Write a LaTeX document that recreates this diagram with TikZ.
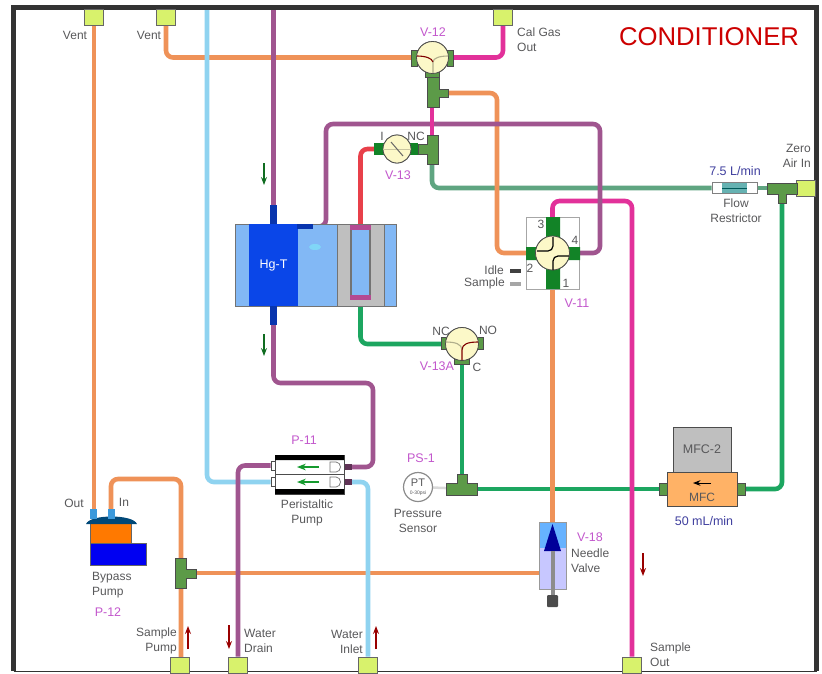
\documentclass[tikz,border=0pt]{standalone}
\usepackage{fontspec}
\setmainfont{Liberation Sans}
\usepackage{tikz}
\usetikzlibrary{arrows.meta,positioning}
\definecolor{frameink}{HTML}{333333}
\definecolor{label}{HTML}{58585A}
\definecolor{tagpink}{HTML}{C257CC}
\definecolor{flowblue}{HTML}{3F3F9E}
\definecolor{lime}{HTML}{D8F26C}
\definecolor{pipeorange}{HTML}{EF9258}
\definecolor{pipeblue}{HTML}{8FD3F0}
\definecolor{pipepurple}{HTML}{A0558F}
\definecolor{pipemagenta}{HTML}{E2319A}
\definecolor{pipegreen}{HTML}{1CA660}
\definecolor{pipesage}{HTML}{5FA581}
\definecolor{pipered}{HTML}{E8404A}
\definecolor{portgreen}{HTML}{5C9A48}
\definecolor{brightgreen}{HTML}{159A2E}
\definecolor{valvecream}{HTML}{FCF8C8}
\definecolor{hgblue}{HTML}{0A46E8}
\definecolor{paleblue}{HTML}{82B8F5}
\pgfdeclarelayer{pipes}
\pgfsetlayers{pipes,main}
\tikzset{
 txt/.style={font=\fontsize{12}{15}\selectfont,text=label,inner sep=0pt,align=center},
 tag/.style={font=\fontsize{12.5}{15}\selectfont,text=tagpink,inner sep=0pt},
 flow/.style={font=\fontsize{12.5}{15}\selectfont,text=flowblue,inner sep=0pt},
 fitting/.style={draw=black!60,fill=lime,line width=0.8pt,minimum width=19pt,minimum height=16pt,inner sep=0pt},
 valve/.style={circle,draw=black!70,fill=valvecream,line width=0.8pt,minimum size=#1,inner sep=0pt},
 stub/.style={draw=black!70,fill=portgreen,line width=0.7pt,inner sep=0pt},
 tee/.style={draw=black!70,fill=portgreen,line width=0.8pt},
 pipe/.style={line width=4.6pt,rounded corners=7pt},
 box/.style={draw=black!70,line width=0.9pt,inner sep=0pt},
 flowdir/.style={->,>=Stealth,line width=1.1pt},
}
\begin{document}
\begin{tikzpicture}[x=1pt,y=-1pt]
 \useasboundingbox (0,0) rectangle (822,673);
 % frame
 \draw[frameink,line width=5pt] (13.5,671) -- (13.5,7.5) -- (816.5,7.5) -- (816.5,671);
 \draw[frameink,line width=1pt] (13.5,671.5) -- (816.5,671.5);
 % bulkhead fittings
 \foreach \n/\x/\y in {ventA/94/17,ventB/166/17,calout/503/17,zeroair/806/188,
   samplepump/180/665,waterdrain/238/665,waterinlet/368/665,sampleout/632/665}{
   \node[fitting] (\n) at (\x,\y) {};}
 % valves
 \node[valve=32pt] (vtwelve) at (432.5,57.5) {};
 \node[valve=28pt] (vthirteen) at (397,149) {};
 \node[valve=34pt] (veleven) at (552.5,253) {};
 \node[valve=33pt] (vthirteenA) at (462,344) {};
 \node[circle,draw=black!45,fill=white,line width=1.2pt,minimum size=29pt,inner sep=0pt] (pt) at (418,487) {};
 % tees
 \filldraw[tee] (427,72) -- (439,72) -- (439,89) -- (448,89) -- (448,97) -- (439,97) -- (439,107) -- (427,107) -- cycle;
 \filldraw[tee] (438,135) -- (438,164) -- (427,164) -- (427,154) -- (418,154) -- (418,144) -- (427,144) -- (427,135) -- cycle;
 \filldraw[tee] (767,183) -- (797,183) -- (797,194) -- (786,194) -- (786,203) -- (778,203) -- (778,194) -- (767,194) -- cycle;
 \filldraw[tee] (457,474) -- (467,474) -- (467,483) -- (477,483) -- (477,495) -- (446,495) -- (446,483) -- (457,483) -- cycle;
 \filldraw[tee] (175,558) -- (186,558) -- (186,569) -- (196,569) -- (196,578) -- (186,578) -- (186,588) -- (175,588) -- cycle;
 \coordinate (teeB) at (444,93);
 \coordinate (teeC) at (432,160);
 \coordinate (teeCtop) at (432,140);
 \coordinate (teeA) at (432,102);
 \coordinate (teeZ) at (782,198);
 \coordinate (teeZin) at (772,188);
 \coordinate (teePS) at (472,489);
 \coordinate (teePSup) at (462,479);
 \coordinate (teeS) at (181,573);
 \coordinate (bypassout) at (94,512);
 \coordinate (bypassin) at (111,512);
 \coordinate (needletop) at (552.5,526);
 \coordinate (needleside) at (545,573);
 % Hg-T block
 \node[box,draw=black!55,fill=paleblue,minimum width=161pt,minimum height=82pt] (hgblock) at (315.5,265) {};
 \node[fill=hgblue,inner sep=0pt,minimum width=49pt,minimum height=82pt,text=white,font=\fontsize{12.5}{15}\selectfont] (hgt) at (273.5,265) {Hg-T};
 \node[box,draw=black!55,fill=black!25,minimum width=47pt,minimum height=82pt] (cellbox) at (360.5,265) {};
 \node[draw=black!55,line width=1.5pt,fill=paleblue,inner sep=0pt,minimum width=19pt,minimum height=70pt] (cell) at (360.5,263) {};
 \node[fill=pipepurple!70!pipemagenta,inner sep=0pt,minimum width=21pt,minimum height=5pt] (celltop) at (360.5,227) {};
 \node[fill=pipepurple!70!pipemagenta,inner sep=0pt,minimum width=21pt,minimum height=5pt] (cellbot) at (360.5,297) {};
 \node[fill=hgblue!75!black,inner sep=0pt,minimum width=7pt,minimum height=19pt] (hgtop) at (273.5,214.5) {};
 \node[fill=hgblue!75!black,inner sep=0pt,minimum width=7pt,minimum height=19pt] (hgbot) at (273.5,315.5) {};
 \node[fill=hgblue!75!black,inner sep=0pt,minimum width=16pt,minimum height=5pt] (hgside) at (305,226.5) {};
 \fill[cyan!50!white] (315,247) ellipse (6pt and 3pt);
 % peristaltic pump
 \node[draw=black!70,fill=white,line width=0.7pt,minimum width=5pt,minimum height=9pt,inner sep=0pt] (pumpinA) at (273.5,465.5) {};
 \node[draw=black!70,fill=white,line width=0.7pt,minimum width=5pt,minimum height=9pt,inner sep=0pt] (pumpinB) at (273.5,482) {};
 \node[fill=pipepurple!60!black,minimum width=8pt,minimum height=6pt,inner sep=0pt] (pumpoutA) at (348,467) {};
 \node[fill=pipepurple!60!black,minimum width=8pt,minimum height=6pt,inner sep=0pt] (pumpoutB) at (348,482) {};
 \node[box,fill=white,minimum width=69pt,minimum height=39pt] (pump) at (309.5,474.5) {};
 \fill[black] (275,455) rectangle (344,460) (275,489) rectangle (344,494);
 \draw[black!70,line width=0.7pt] (275,474.5) -- (344,474.5);
 \foreach \y in {467,482}{
   \draw[->,>=Stealth,brightgreen,line width=1.3pt] (319,\y) -- (297,\y);
   \draw[black!55,line width=0.7pt,fill=white] (330,\y-5) -- (336,\y-5) arc (90:-90:4.5pt and 5pt) -- (330,\y+5) -- cycle;}
 % bypass pump
 \node[fill=blue!95!black,draw=black!60,line width=0.4pt,minimum width=56pt,minimum height=22pt,inner sep=0pt] (pumpbase) at (118,554) {};
 \node[fill=orange!95!red,draw=black!60,line width=0.4pt,minimum width=41pt,minimum height=20pt,inner sep=0pt] (pumpbody) at (110.5,533) {};
 \fill[teal!75!blue!75!black] (86,524) .. controls (90,514) and (133,514) .. (137,524) -- cycle;
 \foreach \x in {93.5,111}{\fill[cyan!70!blue!80!white] (\x-3.5,509) rectangle (\x+3.5,519);}
 % MFC
 \node[box,fill=black!25,minimum width=58pt,minimum height=45pt,text=label,font=\fontsize{12.5}{15}\selectfont] (mfctwo) at (702,449.5) {MFC-2};
 \node[stub,minimum width=8pt,minimum height=12pt] (mfcL) at (663,489) {};
 \node[stub,minimum width=8pt,minimum height=12pt] (mfcR) at (741,489) {};
 \node[box,fill=orange!60!white,minimum width=70pt,minimum height=34pt] (mfc) at (702,489) {};
 \node[txt,anchor=base] at (702,501) {MFC};
 \draw[->,>=Stealth,black,line width=1pt] (711,483) -- (693,483);
 % flow restrictor
 \node[draw=black!50,fill=white,line width=0.7pt,minimum width=45pt,minimum height=11pt,inner sep=0pt] (restrictor) at (734.5,188) {};
 \fill[teal!60!white] (722,183) rectangle (747,193);
 \draw[teal!70!black,line width=0.8pt] (722,188) -- (747,188);
 % needle valve
 \node[draw=black!40,fill=blue!22!white,line width=0.7pt,minimum width=27pt,minimum height=67pt,inner sep=0pt] (needle) at (552.5,555.5) {};
 \fill[blue!50!cyan!60!white] (539.5,522.5) rectangle (565.5,548);
 \fill[blue!60!black] (552.5,524) -- (561,551) -- (544,551) -- cycle;
 \fill[black!45] (550.5,551) rectangle (554.5,596);
 \node[fill=black!70,rounded corners=1pt,minimum width=11pt,minimum height=12pt,inner sep=0pt] (needleknob) at (552.5,601) {};
 % V-11
 \node[draw=black!35,line width=0.7pt,minimum width=53pt,minimum height=72pt,inner sep=0pt] (vbox) at (552.5,253) {};
 \fill[brightgreen!85!black] (546,217) rectangle (560,289) (526,247) rectangle (580,260);
 \node[valve=34pt] at (veleven) {};
 \draw[black,line width=1.2pt,rounded corners=5pt] (553,237) -- (553,251) -- (537,251) (553,270) -- (553,256) -- (569,256);
 % valve ports
 \foreach \x/\y/\w/\h in {414.5/58/6/16,450.5/58/6/16}{
   \node[stub,minimum width=\w pt,minimum height=\h pt] at (\x,\y) {};}
 \node[stub,minimum width=14pt,minimum height=5pt] at (432.5,74.5) {};
 \node[valve=32pt] at (vtwelve) {};
 \draw[black!30!valvecream,line width=1.1pt] (433,73) -- (433,62) .. controls (433,58) and (440,56) .. (448,56);
 \draw[red!50!black,line width=1.1pt] (417,56) .. controls (425,56) and (432,58) .. (433,62);
 \node[fill=brightgreen!85!black,minimum width=10pt,minimum height=12pt,inner sep=0pt] at (379,149) {};
 \node[fill=brightgreen!85!black,minimum width=10pt,minimum height=12pt,inner sep=0pt] at (413,149) {};
 \node[valve=28pt] at (vthirteen) {};
 \draw[black!20!valvecream,line width=0.6pt] (383,149) -- (411,149);
 \draw[black!60,line width=1pt] (391,142) -- (403,156);
 \foreach \x in {444.5,480.5}{
   \node[stub,minimum width=6pt,minimum height=12pt] at (\x,343) {};}
 \node[stub,minimum width=15pt,minimum height=5pt] at (462,361.5) {};
 \node[valve=33pt] at (vthirteenA) {};
 \draw[black!30!valvecream,line width=1.1pt] (446,342) .. controls (455,342) and (462,344) .. (462,350);
 \draw[red!50!black,line width=1.1pt] (478,342) .. controls (468,342) and (462,344) .. (462,350) -- (462,360);
 % pipes
 \begin{pgfonlayer}{pipes}
 \draw[pipe,pipegreen] (teeZ) -- (782,489) -- (mfcR);
 \draw[pipe,pipegreen] (mfcL) -- (teePS);
 \draw[pipe,pipegreen] (teePSup) -- (vthirteenA);
 \draw[pipe,pipegreen] (vthirteenA) -- (360.5,344) -- (cellbot);
 \draw[line width=2.5pt,black!15] (pt) -- (teePS);
 \draw[pipe,pipesage] (teeC) -- (432,188) -- (restrictor);
 \draw[pipe,pipesage] (restrictor) -- (teeZin);
 \draw[pipe,pipeorange] (ventA) -- (bypassout);
 \draw[pipe,pipeorange] (ventB) -- (166,57.5) -- (vtwelve);
 \draw[pipe,pipeorange] (teeB) -- (497,93) -- (497,253) -- (veleven);
 \draw[pipe,pipeorange] (veleven) -- (needletop);
 \draw[pipe,pipeorange] (181,665) -- (181,479) -- (111,479) -- (bypassin);
 \draw[pipe,pipeorange] (teeS) -- (needleside);
 \draw[pipe,pipeblue] (207,9) -- (207,482) -- (pumpinB);
 \draw[pipe,pipeblue] (pumpoutB) -- (368,482) -- (waterinlet);
 \draw[pipe,pipemagenta] (vtwelve) -- (503,57.5) -- (calout);
 \draw[pipe,pipemagenta] (veleven) -- (552.5,201) -- (632,201) -- (sampleout);
 \draw[pipe,pipered] (vthirteen) -- (360.5,149) -- (celltop);
 \draw[pipe,pipepurple] (273.5,9) -- (hgtop);
 \draw[pipe,pipepurple] (hgbot) -- (273.5,383) -- (373,383) -- (373,467) -- (pumpoutA);
 \draw[pipe,pipepurple] (pumpinA) -- (238,465.5) -- (waterdrain);
 \draw[pipe,pipepurple] (hgside) -- (326,226.5) -- (326,124) -- (600,124) -- (600,253) -- (veleven);
 \draw[pipe,pipemagenta,rounded corners=0pt] (teeA) -- (teeCtop);
 \draw[line width=3pt,red!60!black!90] (vthirteen) -- (430,149);
 \end{pgfonlayer}
 % flow arrows
 \draw[flowdir,brightgreen!70!black] (264,163) -- (264,185);
 \draw[flowdir,brightgreen!70!black] (264,334) -- (264,356);
 \draw[flowdir,red!60!black] (188,649) -- (188,626);
 \draw[flowdir,red!60!black] (229,625) -- (229,649);
 \draw[flowdir,red!60!black] (376,649) -- (376,626);
 \draw[flowdir,red!60!black] (643,553) -- (643,576);
 % idle and sample key
 \fill[black!75] (510,268.5) rectangle (521,273);
 \fill[black!35] (510,281.5) rectangle (521,286);
 % labels
 \node[txt] (ventAtext) at (75,35) {Vent};
 \node[txt] (ventBtext) at (149,35) {Vent};
 \node[txt,anchor=north west,align=left] (caltext) at (517,28) {Cal Gas\\Out};
 \node[font=\fontsize{25.7}{30}\selectfont,text=red!80!black,inner sep=0pt] (title) at (709,37) {CONDITIONER};
 \node[tag] (vtwelvetag) at (433,32) {V-12};
 \node[tag] (vthirteentag) at (398,175) {V-13};
 \node[txt] (itext) at (382,136) {I};
 \node[txt] (nctext) at (416,136) {NC};
 \node[txt,anchor=north east,align=right] (zerotext) at (811,144) {Zero\\Air In};
 \node[flow] (lminflow) at (735,171) {7.5 L/min};
 \node[txt] (flowtext) at (736,210.5) {Flow\\Restrictor};
 \node[txt] (threetext) at (541,224) {3};
 \node[txt] (fourtext) at (575,240) {4};
 \node[txt] (twotext) at (530,268) {2};
 \node[txt] (onetext) at (566,283) {1};
 \node[txt,anchor=east] (idletext) at (504,270) {Idle};
 \node[txt,anchor=east] (sampletext) at (505,283) {Sample};
 \node[tag] (velevtag) at (577,303) {V-11};
 \node[tag] (vAtag) at (437,366) {V-13A};
 \node[txt] (ncAtext) at (441,331) {NC};
 \node[txt] (noAtext) at (488,330) {NO};
 \node[txt] (cAtext) at (477,367) {C};
 \node[tag] (psone) at (421,458) {PS-1};
 \node[font=\fontsize{11}{12}\selectfont,text=label,inner sep=0pt] (pttext) at (418,483) {PT};
 \node[font=\fontsize{5}{6}\selectfont,text=label,inner sep=0pt] (psitext) at (418,493) {0-30psi};
 \node[txt] (sensortext) at (418,520.5) {Pressure\\Sensor};
 \node[tag] (ptag) at (304,440) {P-11};
 \node[txt] (peritext) at (307,513) {Peristaltic\\Pump};
 \node[txt] (outtext) at (74,503) {Out};
 \node[txt] (intext) at (124,502) {In};
 \node[txt,anchor=north west,align=left] (bypasstext) at (92,572.5) {Bypass\\Pump};
 \node[tag] (ptwelve) at (108,612) {P-12};
 \node[txt,anchor=east,align=right] (samplepumptext) at (177,640.5) {Sample\\Pump};
 \node[txt,anchor=west,align=left] (draintext) at (244,641) {Water\\Drain};
 \node[txt,anchor=east,align=right] (inlettext) at (363,641.5) {Water\\Inlet};
 \node[txt,anchor=west,align=left] (sampleouttext) at (650,655) {Sample\\Out};
 \node[tag] (veighteen) at (590,537) {V-18};
 \node[txt,anchor=west,align=left] (needletext) at (571,560.5) {Needle\\Valve};
 \node[flow] (lminmfc) at (704,521) {50 mL/min};
\end{tikzpicture}
\end{document}
